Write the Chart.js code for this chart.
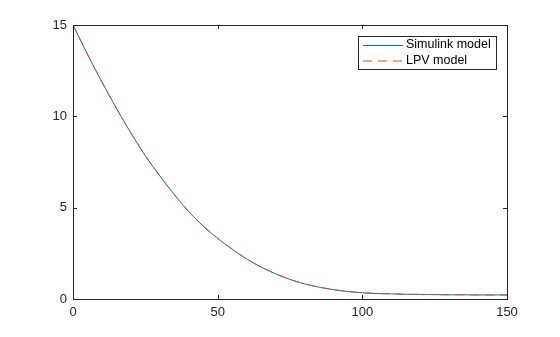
<!DOCTYPE html>
<html>
<head>
<meta charset="utf-8">
<script src="https://cdn.jsdelivr.net/npm/chart.js@4"></script>
<style>
  html, body { margin: 0; padding: 0; background: #fff; }
  #wrap { width: 560px; height: 337px; }
</style>
</head>
<body>
<div id="wrap"><canvas id="grafico" width="560" height="337"></canvas></div>
<script>
// tiempo (s) y respuesta
const tiempo = [0, 5, 10, 15, 20, 25, 30, 35, 40, 45, 50, 55, 60, 65, 70, 75, 80, 85, 90, 95,
  100, 105, 110, 115, 120, 125, 130, 135, 140, 145, 150];
const simulink = [15, 13.4, 11.88, 10.44, 9.09, 7.84, 6.74, 5.72, 4.79, 3.99, 3.32, 2.73, 2.2, 1.75, 1.38, 1.07,
  0.83, 0.65, 0.51, 0.41, 0.34, 0.30, 0.28, 0.26, 0.25, 0.24, 0.23, 0.23, 0.22, 0.22, 0.22];
const lpv = [15, 13.4, 11.88, 10.44, 9.09, 7.84, 6.74, 5.72, 4.79, 3.99, 3.32, 2.73, 2.2, 1.75, 1.38, 1.07,
  0.83, 0.65, 0.51, 0.41, 0.34, 0.30, 0.28, 0.26, 0.25, 0.24, 0.23, 0.23, 0.22, 0.22, 0.22];
const etiquetas = ["Simulink model", "LPV model"];
const ticksX = [0, 50, 100, 150];
const ticksY = [0, 5, 10, 15];

const fuente = "'Liberation Sans', Arial, sans-serif";
const ejeColor = "#262626";

function puntos(ys) {
    return tiempo.map((t, i) => ({ x: t, y: ys[i] }));
}

// caja y marcas hacia adentro, estilo matlab
const cajaPlugin = {
    id: "caja",
    afterDatasetsDraw(chart) {
        const { ctx, chartArea: a, scales } = chart;
        ctx.save();
        ctx.strokeStyle = ejeColor;
        ctx.lineWidth = 1;
        ctx.strokeRect(Math.round(a.left) + 0.5, Math.round(a.top) + 0.5,
            Math.round(a.right - a.left), Math.round(a.bottom - a.top));
        const len = 4;
        ctx.beginPath();
        ticksX.forEach(v => {
            const x = Math.round(scales.x.getPixelForValue(v)) + 0.5;
            ctx.moveTo(x, a.bottom); ctx.lineTo(x, a.bottom - len);
            ctx.moveTo(x, a.top); ctx.lineTo(x, a.top + len);
        });
        ticksY.forEach(v => {
            const y = Math.round(scales.y.getPixelForValue(v)) + 0.5;
            ctx.moveTo(a.left, y); ctx.lineTo(a.left + len, y);
            ctx.moveTo(a.right, y); ctx.lineTo(a.right - len, y);
        });
        ctx.stroke();
        ctx.restore();
    },
    afterDraw(chart) {
        // leyenda
        const { ctx } = chart;
        const x0 = 358.5, y0 = 36.5, w = 138, h = 33;
        ctx.save();
        ctx.fillStyle = "#fff";
        ctx.fillRect(x0, y0, w, h);
        ctx.strokeStyle = ejeColor;
        ctx.lineWidth = 1;
        ctx.strokeRect(x0, y0, w, h);
        ctx.font = "12.5px " + fuente;
        ctx.textBaseline = "middle";
        chart.data.datasets.forEach((ds, i) => {
            const y = 45 + i * 15.5;
            ctx.strokeStyle = ds.borderColor;
            ctx.lineWidth = 1;
            ctx.setLineDash(ds.borderDash || []);
            ctx.beginPath();
            ctx.moveTo(363, y + 0.5);
            ctx.lineTo(403, y + 0.5);
            ctx.stroke();
            ctx.setLineDash([]);
            ctx.fillStyle = "#000";
            ctx.fillText(ds.label, 406, y);
        });
        ctx.restore();
    }
};

const chart = new Chart(document.getElementById("grafico").getContext("2d"), {
    type: "line",
    data: {
        datasets: [{
            label: etiquetas[0],
            data: puntos(simulink),
            borderColor: "#0072BD",
            borderWidth: 1,
            pointRadius: 0,
            order: 2,
            cubicInterpolationMode: "monotone"
        }, {
            label: etiquetas[1],
            data: puntos(lpv),
            borderColor: "#D95319",
            borderWidth: 1,
            borderDash: [9, 6],
            pointRadius: 0,
            order: 1,
            cubicInterpolationMode: "monotone"
        }]
    },
    options: {
        responsive: false,
        animation: false,
        layout: { padding: { top: 25, right: 53, left: 0, bottom: 0 } },
        plugins: { legend: { display: false }, tooltip: { enabled: false } },
        scales: {
            x: {
                type: "linear",
                min: 0, max: 150,
                afterBuildTicks: s => { s.ticks = ticksX.map(v => ({ value: v })); },
                afterFit: s => { s.height = 38; },
                grid: { display: false, drawTicks: false },
                border: { display: false },
                ticks: { padding: 6, color: ejeColor, font: { family: fuente, size: 13 }, maxRotation: 0 }
            },
            y: {
                min: 0, max: 15,
                afterBuildTicks: s => { s.ticks = ticksY.map(v => ({ value: v })); },
                afterFit: s => { s.width = 73; },
                grid: { display: false, drawTicks: false },
                border: { display: false },
                ticks: { padding: 6, color: ejeColor, font: { family: fuente, size: 13 } }
            }
        }
    },
    plugins: [cajaPlugin]
});
</script>
</body>
</html>
